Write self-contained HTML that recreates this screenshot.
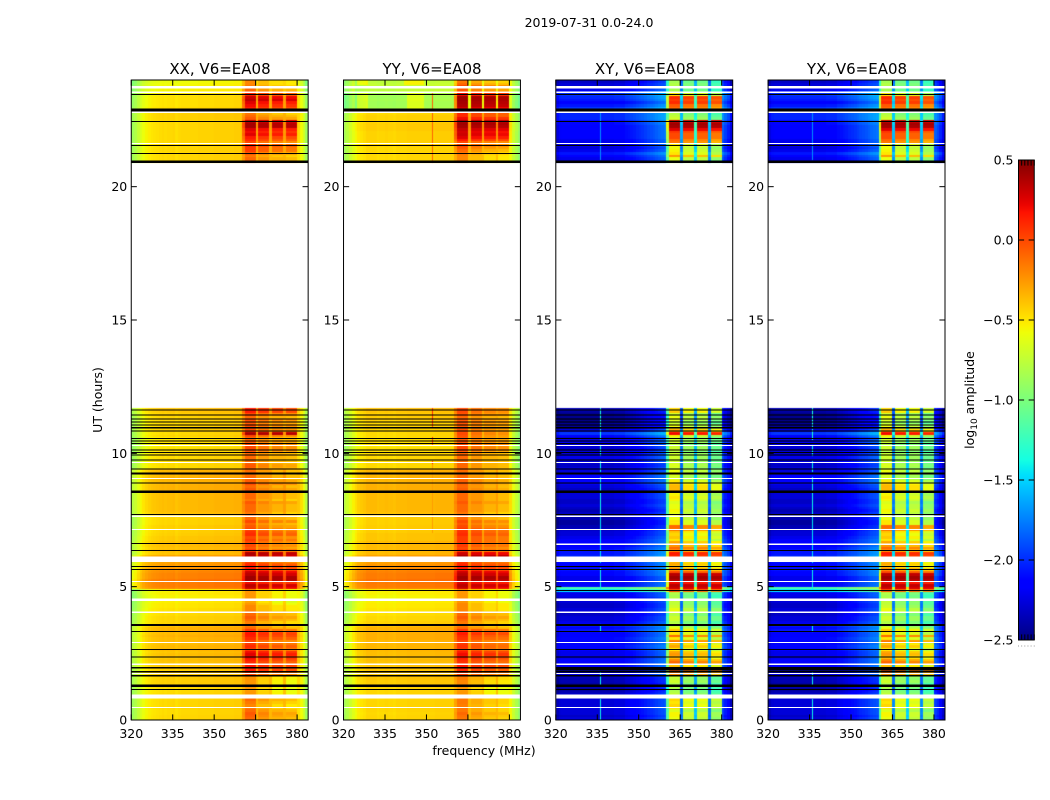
<!DOCTYPE html>
<html>
<head>
<meta charset="utf-8">
<title>2019-07-31 0.0-24.0</title>
<style>
html,body{margin:0;padding:0;background:#fff;}
#figure{position:relative;width:1050px;height:800px;overflow:hidden;background:#fff;font-family:"DejaVu Sans","Liberation Sans",sans-serif;}
canvas{position:absolute;top:80px;display:block;}
svg{position:absolute;left:0;top:0;}
text{font-family:"DejaVu Sans","Liberation Sans",sans-serif;fill:#000;}
</style>
</head>
<body>
<div id="figure">
<canvas id="canvas-xx"></canvas>
<canvas id="canvas-yy"></canvas>
<canvas id="canvas-xy"></canvas>
<canvas id="canvas-yx"></canvas>
<svg id="overlay" width="1050" height="800" viewBox="0 0 1050 800">
<defs><linearGradient id="jet-gradient" x1="0" y1="1" x2="0" y2="0"></linearGradient></defs>
<text x="589" y="27" text-anchor="middle" font-size="12.5">2019-07-31 0.0-24.0</text>
<text x="220" y="74" text-anchor="middle" font-size="15">XX, V6=EA08</text>
<text x="432" y="74" text-anchor="middle" font-size="15">YY, V6=EA08</text>
<text x="645" y="74" text-anchor="middle" font-size="15">XY, V6=EA08</text>
<text x="857" y="74" text-anchor="middle" font-size="15">YX, V6=EA08</text>
<text x="484" y="755" text-anchor="middle" font-size="12.5">frequency (MHz)</text>
<text transform="translate(102,400) rotate(-90)" text-anchor="middle" font-size="12.5">UT (hours)</text>
<text transform="translate(974,400) rotate(-90)" text-anchor="middle" font-size="12.5">log<tspan font-size="9" dy="3">10</tspan><tspan dy="-3"> amplitude</tspan></text>
</svg>
</div>
<script>
/* ---------- axis tick data ---------- */
const xTicks = [320, 335, 350, 365, 380];
const yTicks = [0, 5, 10, 15, 20];
const colorTicks = [0.5, 0, -0.5, -1, -1.5, -2, -2.5];
const colorTickLabels = ['0.5', '0.0', '\u22120.5', '\u22121.0', '\u22121.5', '\u22122.0', '\u22122.5'];

/* ---------- per-row levels, one value per 0.1 h: 0.0-11.6 h then 20.9-24.0 h ---------- */
const xxBgLow = [
-.47,-.47,-.48,-.48,-.47,-.47,-.47,-.47,-.47,-.47,
-.48,-.48,-.47,-.44,-.44,-.44,-.42,-.42,-.44,-.42,
-.41,-.41,-.39,-.41,-.39,-.41,-.37,-.37,-.39,-.37,
-.37,-.35,-.37,-.35,-.35,-.40,-.46,-.46,-.46,-.48,
-.50,-.50,-.52,-.52,-.54,-.56,-.56,-.54,-.56,-.20,
-.18,-.18,-.16,-.20,-.20,-.22,-.24,-.28,-.28,-.30,
-.30,-.30,-.40,-.38,-.40,-.38,-.40,-.42,-.42,-.44,
-.45,-.45,-.44,-.46,-.46,-.46,-.48,-.40,-.38,-.38,
-.38,-.38,-.38,-.38,-.38,-.38,-.35,-.35,-.36,-.36,
-.34,-.36,-.34,-.36,-.48,-.48,-.48,-.50,-.48,-.48,
-.50,-.50,-.52,-.52,-.50,-.52,-.46,-.48,-.44,-.46,
-.46,-.46,-.46,-.46,-.44,-.42,-.40];
const xxBgHigh = [-.47,
-.47,-.47,-.47,-.47,-.47,-.47,-.47,-.47,-.47,-.47,
-.47,-.47,-.47,-.47,-.47,-.45,-.45,-.45,-.47,-.48,
-.50,-.50,-.50,-.50,-.52,-.56,-.56,-.58,-.58,-.60];
const xxBandLow = [
-.1,-.07,-.05,-.1,-.17,-.2,-.15,-.1,-.13,-.25,
-.25,-.27,-.25,-.25,-.25,-.23,-.2,.05,.15,.1,
.17,.1,.15,.2,.25,.2,.05,.1,.05,0,
.1,.15,.17,.05,-.1,-.15,-.17,-.1,-.05,-.1,
-.15,-.2,-.2,-.25,-.3,-.25,-.25,-.25,-.25,.3,
.35,.2,.42,.42,.35,.3,.15,.15,.1,0,
.3,.35,.38,.05,-.05,0,0,.05,0,.1,
.07,0,-.05,-.1,0,-.1,-.05,-.15,-.1,-.1,
-.1,-.05,-.15,-.1,-.1,-.1,-.05,-.1,0,-.05,
-.1,-.1,-.15,-.1,-.07,-.05,-.1,-.15,-.1,-.1,
-.05,0,0,0,-.05,-.1,0,.4,0,-.05,
0,-.05,0,-.1,0,.15,.15];
const xxBandHigh = [-.1,
-.1,-.15,-.05,.05,.05,.1,0,.1,.15,.25,
.2,.25,.4,.4,.35,-.05,-.1,-.15,-.15,.15,
.2,.25,.35,.3,.1,0,-.1,-.15,-.2,-.2];

const yyBgLow = [
-.47,-.47,-.48,-.47,-.47,-.47,-.47,-.47,-.47,-.47,
-.47,-.47,-.47,-.44,-.44,-.42,-.42,-.42,-.42,-.42,
-.41,-.41,-.39,-.41,-.39,-.39,-.37,-.37,-.37,-.37,
-.35,-.35,-.35,-.35,-.35,-.40,-.46,-.48,-.48,-.50,
-.52,-.52,-.54,-.54,-.56,-.58,-.58,-.56,-.56,-.20,
-.18,-.17,-.15,-.18,-.18,-.20,-.22,-.26,-.28,-.30,
-.30,-.30,-.38,-.38,-.38,-.38,-.38,-.42,-.42,-.42,
-.44,-.44,-.44,-.45,-.45,-.45,-.46,-.40,-.38,-.38,
-.38,-.38,-.38,-.38,-.38,-.38,-.35,-.35,-.36,-.36,
-.36,-.36,-.36,-.36,-.48,-.48,-.48,-.50,-.48,-.48,
-.50,-.50,-.52,-.50,-.50,-.50,-.48,-.48,-.46,-.46,
-.46,-.46,-.44,-.44,-.44,-.42,-.40];
const yyBgHigh = [-.48,
-.48,-.48,-.48,-.48,-.48,-.46,-.46,-.46,-.46,-.46,
-.46,-.44,-.44,-.44,-.46,-.46,-.46,-.48,-.48,-.86,
-.88,-.88,-.86,-.88,-.86,-.78,-.78,-.76,-.76,-.78];
const yyBandLow = [
-.15,-.13,-.1,-.15,-.15,-.17,-.15,-.15,-.15,-.25,
-.25,-.27,-.25,-.2,-.2,-.17,-.15,.05,.1,.1,
.15,.07,.1,.15,.2,.15,.05,.07,.05,0,
.07,.1,.15,.05,-.1,-.15,-.15,-.1,-.05,-.1,
-.15,-.2,-.2,-.2,-.25,-.25,-.25,-.25,-.25,.3,
.35,.25,.4,.42,.35,.3,.15,.15,.1,.05,
.3,.38,.3,.05,0,.05,.05,.05,.05,.1,
.07,.05,0,-.05,0,-.1,-.05,-.15,-.1,-.1,
-.1,-.05,-.1,-.1,-.1,-.1,-.07,-.1,-.07,-.07,
-.1,-.1,-.15,-.1,-.1,-.1,-.1,-.15,-.1,-.1,
-.07,0,0,0,-.03,-.05,-.03,0,-.03,-.05,
-.05,-.03,-.05,-.1,-.03,0,0];
const yyBandHigh = [-.2,
-.2,-.2,-.15,-.1,-.05,0,0,.15,.25,.3,
.28,.32,.4,.42,.4,.2,.1,.1,.2,.3,
.38,.4,.42,.42,.2,.02,-.05,0,-.1,-.15];

const crossBgLow = [
-2.2,-2.25,-2.2,-2.2,-2.15,-2.2,-2.2,-2.2,-2.2,-2.25,
-2.3,-2.35,-2.3,-2.35,-2.3,-2.3,-2.2,-2.15,-2.2,-2.15,
-2.1,-2.1,-2.1,-2.15,-2.15,-2.15,-2.1,-2.05,-2.1,-2.1,
-2.05,-2.1,-2.1,-2,-2.05,-2,-2.15,-2.2,-2.2,-2.25,
-2.2,-2.2,-2.25,-2.25,-2.2,-2.2,-2.15,-2.15,-1.4,-1.1,
-2.1,-2.1,-2.15,-2.15,-2.05,-2.05,-2,-2.05,-2.05,-2,
-1.95,-1.95,-2,-2,-2.05,-2.1,-2.1,-2.1,-2.15,-2.2,
-2.2,-2.25,-2.3,-2.35,-2.35,-2.3,-2.3,-2.25,-2.3,-2.25,
-2.2,-2.25,-2.25,-2.2,-2.2,-2.25,-2.25,-2.2,-2.15,-2.1,
-2.1,-2.1,-2.15,-2.2,-2.2,-2.25,-2.2,-2.2,-2.15,-2.2,
-2.2,-2.25,-2.2,-2.2,-2.15,-2.2,-2.05,-1.9,-2.2,-2.35,
-2.4,-2.4,-2.45,-2.4,-2.4,-2.35,-2.3];
const crossBgHigh = [-2.2,
-2.15,-2.1,-2,-2.15,-2.2,-2.15,-2.15,-2.15,-2.1,-2.1,
-2.1,-2.1,-2.1,-2.05,-2.05,-1.95,-1.95,-1.95,-2,-1.9,
-2,-2.1,-2,-1.95,-1.9,-2,-2.15,-2.2,-2.2,-2.25];
const crossBandLow = [
-.6,-.55,-.55,-.65,-.5,-.45,-.5,-.45,-.5,-.75,
-.8,-.85,-.8,-.8,-.7,-.75,-.7,-.15,-.05,0,
-.4,-.1,-.2,-.35,-.25,-.3,-.5,-.3,-.4,-.15,
-.5,-.1,-.5,-.4,-.6,-.75,-.8,-.7,-.7,-.8,
-.55,-.6,-.7,-.75,-.75,-.8,-.85,-.8,0,.3,
.35,.2,.38,.42,.35,0,-.2,-.35,-.3,-.35,
.1,.1,.15,-.2,-.1,-.25,-.3,-.5,-.4,-.45,
-.4,-.15,-.1,-.5,-.5,-.6,-.55,-.6,-.55,-.6,
-.6,-.65,-.55,-.5,-.55,-.6,-.35,-.35,-.4,-.5,
-.65,-.7,-.55,-.6,-.7,-.65,-.7,-.7,-.7,-.7,
-.8,-.7,-.7,-.8,-.7,-.7,-.55,.2,-.3,-.5,
-.6,-.75,-.65,-.6,-.7,-.4,-.45];
const crossBandHigh = [-.7,
-.6,-.25,-.5,-.55,-.6,-.55,-.15,-.1,0,0,
.05,.25,.4,.42,.35,-.7,-.75,-.8,-.3,-.1,
-.05,.1,.05,.1,-.5,-.8,-.85,-.8,-.8,-.85];

/* ---------- per-channel (1 MHz, 320-383) shapes ---------- */
const xxProfile = [
-.40,-.34,-.26,-.18,-.12,-.08,-.05,-.03,-.02,-.01,
0,.01,0,.01,.01,.02,-.01,.01,.02,.02,
.02,.02,.02,.02,.03,.03,.03,.03,.03,.03,
.04,.04,.04,.04,.04,.04,.04,.05,.05,.05,
.05,.05,.05,.05,.05,.05,.05,.05,.05,.05,
.05,.05,.05,.05,.05,.05,.05,.05,.05,.02,
-.04,-.10,-.22,-.40];
const yyProfile = [
-.38,-.32,-.24,-.16,-.10,-.05,-.03,-.01,.02,.02,
.02,.02,0,.01,.01,.02,.01,.01,0,.02,
.02,.02,.02,.03,.03,.03,.03,.03,.03,.03,
.03,.03,.03,.04,.04,.04,.04,.04,.04,.04,
.05,.05,.05,.05,.05,.05,.05,.05,.05,.05,
.05,.05,.05,.05,.05,.05,.05,.05,.05,-.05,
-.12,-.25,-.35,-.45];
const xyProfile = [
-.15,-.08,-.07,-.07,-.07,-.07,-.07,-.07,-.07,-.07,
-.07,-.07,-.07,-.07,-.07,-.07,-.07,-.07,-.07,-.07,
-.07,-.05,-.05,-.05,-.05,0,.01,.03,.05,.08,
.10,.12,.15,.18,.20,.22,.25,.28,.30,.32,
.35,.3,.3,.3,.3,.3,.3,.3,.3,.3,
.35,.3,.3,.3,.3,.3,.3,.3,.3,.3,
.25,.15,.05,-.15];
const yxProfile = [
-.15,-.08,-.07,-.07,-.07,-.07,-.07,-.07,-.07,-.07,
-.07,-.07,-.07,-.07,-.07,-.07,-.07,-.07,-.07,-.07,
-.07,-.05,-.05,-.05,-.05,0,.01,.03,.05,.08,
.10,.12,.15,.18,.20,.22,.25,.28,.30,.32,
.35,.3,.3,.3,.3,.35,.3,.3,.3,.3,
.4,.3,.3,.3,.3,.35,.3,.3,.3,.3,
.25,.18,.08,-.1];
const amplitudeBandMask = [
0,0,0,0,0,0,0,0,0,0, 0,0,0,0,0,0,0,0,0,0,
0,0,0,0,0,0,0,0,0,0, 0,0,0,0,0,0,0,0,0,0,
.5,1,1,1,1,.2,1,1,1,1, .2,1,1,1,1,.25,1,1,1,1,
.08,0,0,0];
const crossBandMask = [
0,0,0,0,0,0,0,0,0,0, 0,0,0,0,0,0,0,0,0,0,
0,0,0,0,0,0,0,0,0,0, 0,0,0,0,0,0,0,0,0,0,
.55,1,1,1,1,.1,1,1,1,1, .25,1,1,1,1,.1,1,1,1,1,
0,0,0,0];
const amplitudeBandOffset = [
0,0,0,0,0,0,0,0,0,0, 0,0,0,0,0,0,0,0,0,0,
0,0,0,0,0,0,0,0,0,0, 0,0,0,0,0,0,0,0,0,0,
0,0,0,0,0,0,-.25,-.25,-.25,-.25, 0,-.4,-.4,-.4,-.4,0,-.45,-.45,-.45,-.45,
0,0,0,0];
const crossBandOffset = [
0,0,0,0,0,0,0,0,0,0, 0,0,0,0,0,0,0,0,0,0,
0,0,0,0,0,0,0,0,0,0, 0,0,0,0,0,0,0,0,0,0,
0,0,0,0,0,0,-.15,-.15,-.15,-.15, 0,-.15,-.15,-.15,-.15,0,-.3,-.3,-.3,-.3,
0,0,0,0];

/* ---------- local brightenings: [start hour, end hour, first channel, last channel, log offset] ---------- */
const noPatches = [];
const yyPatches = [[22.9,24,0,3,.22],[22.9,24,60,63,.25],[22.9,23.5,5,8,.2],[22.9,23.5,23,28,.2],[23.8,24,5,8,.2],[23.8,24,22,28,.2]];

/* ---------- narrow interference lines: [start hour, end hour, log amplitude] ---------- */
const yySpikeChannel = 32;
const yySpikes = [[7,9.6,-.27],[10.3,10.6,.1],[9.6,9.7,.1],[11,11.7,.1],[20.9,23.5,-.08]];
const crossSpikeChannel = 16;
const crossSpikes = [[.05,.8,-1.4],[1.3,1.8,-1.4],[3.3,3.6,-1.4],[4.9,5.7,-1.4],[5.9,7.7,-1.45],[7.7,9.1,-1.4],[9.3,9.7,-1.4],[9.9,10.3,-1.4],[10.5,10.9,-1.35],[11,11.7,-1.35],[21,22.9,-1.7]];

/* ---------- flagged rows: [centre hour, thickness in hours] ---------- */
const amplitudeBlackBands = [[1.15,.04],[1.29,.1],[1.66,.04],[1.81,.04],[1.96,.04],[2.37,.04],[2.65,.04],[3.32,.04],[3.56,.08],[4.86,.04],[5.65,.04],[5.76,.04],[6.36,.04],[6.625,.04],[7.7,.04],[8.56,.09],[8.89,.04],[9.25,.07],[9.41,.04],[9.75,.04],[9.93,.04],[10.03,.04],[10.13,.04],[10.375,.04],[10.47,.04],[10.56,.04],[10.84,.04],[10.96,.04],[11.06,.04],[11.17,.04],[11.29,.04],[11.44,.04],[11.625,.04],[20.93,.09],[21.25,.04],[21.55,.04],[22.45,.04],[22.875,.1],[23.46,.04]];
const crossBlackBands = [[1.15,.04],[1.29,.1],[1.66,.04],[1.81,.04],[1.92,.12],[2.37,.04],[2.65,.04],[3.32,.04],[3.56,.08],[4.86,.04],[5.65,.04],[5.76,.04],[6.36,.04],[7.7,.04],[8.56,.09],[8.89,.04],[9.25,.07],[9.41,.04],[9.75,.04],[9.93,.04],[10.03,.04],[10.13,.04],[10.375,.04],[10.47,.04],[10.56,.04],[10.84,.04],[10.96,.04],[11.06,.04],[11.17,.04],[11.29,.04],[11.44,.04],[11.625,.04],[20.93,.09],[21.55,.04],[22.45,.04],[22.875,.1],[23.46,.04]];
const amplitudeWhiteBands = [[.475,.04],[.885,.15],[1.75,.04],[2.09,.04],[2.9,.04],[4.04,.04],[4.51,.1],[5.2,.04],[6.025,.2],[7.15,.04],[7.64,.04],[9.06,.04],[9.66,.04],[10.3,.04],[21.62,.04],[22.79,.07],[23.54,.05],[23.725,.1]];
const crossWhiteBands = [[.475,.04],[.885,.15],[1.75,.04],[2.09,.04],[2.9,.04],[4.04,.04],[4.51,.1],[5.2,.04],[6.025,.2],[6.59,.04],[7.15,.04],[7.64,.04],[9.06,.04],[9.66,.04],[10.3,.04],[21.62,.04],[22.79,.07],[23.54,.05],[23.725,.1]];

/* ---------- panels ---------- */
const panelLeft = [131.25, 343.53, 555.81, 768.1];
const panelNames = ['xx', 'yy', 'xy', 'yx'];
const panelWidth = 176.9;
const panelTop = 80, panelBottom = 720;
const cMin = -2.5, cMax = 0.5;
const freqMin = 320, freqMax = 384;
const hourMin = 0, hourMax = 24;
const lowRowCount = 117;

const svgNS = 'http://www.w3.org/2000/svg';
const overlay = document.getElementById('overlay');

function xScale(freq, left) { return left + (freq - freqMin) / (freqMax - freqMin) * panelWidth; }
function yScale(hour) { return panelBottom - (hour - hourMin) / (hourMax - hourMin) * (panelBottom - panelTop); }
function rowStart(i) { return i < lowRowCount ? i * 0.1 : 20.9 + (i - lowRowCount) * 0.1; }

function lerpStops(t, stops) {
  if (t <= stops[0][0]) return stops[0][1];
  for (let i = 1; i < stops.length; i++) {
    if (t <= stops[i][0]) {
      const a = stops[i - 1], b = stops[i];
      return a[1] + (b[1] - a[1]) * (t - a[0]) / (b[0] - a[0]);
    }
  }
  return stops[stops.length - 1][1];
}
const jetR = [[0,0],[.35,0],[.66,1],[.89,1],[1,.5]];
const jetG = [[0,0],[.125,0],[.375,1],[.64,1],[.91,0],[1,0]];
const jetB = [[0,.5],[.11,1],[.34,1],[.65,0],[1,0]];
function jet(value) {
  const t = Math.max(0, Math.min(1, (value - cMin) / (cMax - cMin)));
  return 'rgb(' + Math.round(255 * lerpStops(t, jetR)) + ',' + Math.round(255 * lerpStops(t, jetG)) + ',' + Math.round(255 * lerpStops(t, jetB)) + ')';
}

function makeLine(x1, y1, x2, y2) {
  const el = document.createElementNS(svgNS, 'line');
  el.setAttribute('x1', x1);
  el.setAttribute('y1', y1);
  el.setAttribute('x2', x2);
  el.setAttribute('y2', y2);
  el.setAttribute('stroke', '#000');
  el.setAttribute('stroke-width', '1');
  overlay.appendChild(el);
  return el;
}
function makeRect(x, y, w, h, fill) {
  const el = document.createElementNS(svgNS, 'rect');
  el.setAttribute('x', x);
  el.setAttribute('y', y);
  el.setAttribute('width', w);
  el.setAttribute('height', h);
  el.setAttribute('fill', fill);
  overlay.appendChild(el);
  return el;
}
function makeText(x, y, anchor, content) {
  const el = document.createElementNS(svgNS, 'text');
  el.setAttribute('x', x);
  el.setAttribute('y', y);
  el.setAttribute('text-anchor', anchor);
  el.setAttribute('font-size', '12.5');
  el.textContent = content;
  overlay.appendChild(el);
  return el;
}

function drawHeatmap(name, left, bgRows, bandRows, profile, mask, offset, patches, spikeChannel, spikes) {
  const canvas = document.getElementById('canvas-' + name);
  const originX = Math.floor(left);
  const w = Math.ceil(panelWidth) + 1;
  const h = panelBottom - panelTop;
  canvas.width = w;
  canvas.height = h;
  canvas.style.left = originX + 'px';
  canvas.style.width = w + 'px';
  canvas.style.height = h + 'px';
  const ctx = canvas.getContext('2d');
  for (let r = 0; r < bgRows.length; r++) {
    const start = rowStart(r);
    const mid = start + 0.05;
    const yTop = Math.round(yScale(start + 0.1)) - panelTop;
    const yBot = Math.round(yScale(start)) - panelTop;
    for (let c = 0; c < profile.length; c++) {
      const f = freqMin + c;
      const x0 = Math.round(xScale(f, left)) - originX;
      const x1 = Math.round(xScale(f + 1, left)) - originX;
      const band = bandRows[r] + offset[c] * (0.5 - bandRows[r]);
      let v = bgRows[r] + profile[c] + mask[c] * (band - bgRows[r] - profile[c]);
      for (const p of patches) {
        if (mid >= p[0] && mid < p[1] && c >= p[2] && c <= p[3]) v += p[4];
      }
      ctx.fillStyle = jet(v);
      ctx.fillRect(x0, yTop, x1 - x0, yBot - yTop);
      if (c === spikeChannel) {
        for (const s of spikes) {
          if (mid >= s[0] && mid < s[1]) {
            ctx.fillStyle = jet(s[2]);
            ctx.fillRect(x0, yTop, 1, yBot - yTop);
          }
        }
      }
    }
  }
}

const lowHigh = (a, b) => a.concat(b);
drawHeatmap('xx', panelLeft[0], lowHigh(xxBgLow, xxBgHigh), lowHigh(xxBandLow, xxBandHigh), xxProfile, amplitudeBandMask, amplitudeBandOffset, noPatches, -1, []);
drawHeatmap('yy', panelLeft[1], lowHigh(yyBgLow, yyBgHigh), lowHigh(yyBandLow, yyBandHigh), yyProfile, amplitudeBandMask, amplitudeBandOffset, yyPatches, yySpikeChannel, yySpikes);
drawHeatmap('xy', panelLeft[2], lowHigh(crossBgLow, crossBgHigh), lowHigh(crossBandLow, crossBandHigh), xyProfile, crossBandMask, crossBandOffset, noPatches, crossSpikeChannel, crossSpikes);
drawHeatmap('yx', panelLeft[3], lowHigh(crossBgLow, crossBgHigh), lowHigh(crossBandLow, crossBandHigh), yxProfile, crossBandMask, crossBandOffset, noPatches, crossSpikeChannel, crossSpikes);

panelNames.forEach(function (name, p) {
  const left = panelLeft[p];
  const right = left + panelWidth;
  const blacks = p < 2 ? amplitudeBlackBands : crossBlackBands;
  const whites = p < 2 ? amplitudeWhiteBands : crossWhiteBands;
  whites.forEach(function (b) {
    const el = makeRect(left, yScale(b[0] + b[1] / 2), panelWidth, yScale(b[0] - b[1] / 2) - yScale(b[0] + b[1] / 2), '#fff');
    el.setAttribute('shape-rendering', 'crispEdges');
    
    
  });
  blacks.forEach(function (b) {
    const el = makeRect(left, yScale(b[0] + b[1] / 2), panelWidth, yScale(b[0] - b[1] / 2) - yScale(b[0] + b[1] / 2), '#000');
    el.setAttribute('shape-rendering', 'crispEdges');
    
    
  });
  xTicks.forEach(function (tick) {
    const x = xScale(tick, left);
    const bottomTick = makeLine(x, panelBottom, x, panelBottom - 5.6);
    
    
    const topTick = makeLine(x, panelTop, x, panelTop + 5.6);
    
    
    const label = makeText(x, 738, 'middle', String(tick));
    
    
  });
  yTicks.forEach(function (tick) {
    const y = yScale(tick);
    const leftTick = makeLine(left, y, left + 5.6, y);
    
    
    const rightTick = makeLine(right, y, right - 5.6, y);
    
    
    const label = makeText(left - 4, y + 4.5, 'end', String(tick));
    
    
  });
  const frame = makeRect(left, panelTop, panelWidth, panelBottom - panelTop, 'none');
  frame.setAttribute('stroke', '#000');
  frame.setAttribute('stroke-width', '1');
  
  
});

/* ---------- colorbar ---------- */
const cbLeft = 1018.5, cbWidth = 15.75, cbTop = 160, cbBottom = 640;
const cbFractions = [0, .2, .4, .6, .8, 1];
function cbY(value) { return cbBottom - (value - cMin) / (cMax - cMin) * (cbBottom - cbTop); }
const gradient = document.getElementById('jet-gradient');
for (let i = 0; i <= 64; i++) {
  const stop = document.createElementNS(svgNS, 'stop');
  stop.setAttribute('offset', i / 64);
  stop.setAttribute('stop-color', jet(cMin + (cMax - cMin) * i / 64));
  gradient.appendChild(stop);
}
const cbBar = makeRect(cbLeft, cbTop, cbWidth, cbBottom - cbTop, 'url(#jet-gradient)');


colorTicks.forEach(function (tick, i) {
  const y = cbY(tick);
  const leftTick = makeLine(cbLeft, y, cbLeft + 5.6, y);
  
  
  const rightTick = makeLine(cbLeft + cbWidth, y, cbLeft + cbWidth - 5.6, y);
  
  
  const label = makeText(cbLeft - 5, y + 4.5, 'end', colorTickLabels[i]);
  
  
});
cbFractions.forEach(function (frac) {
  const x = cbLeft + frac * cbWidth;
  const topTick = makeLine(x, cbTop, x, cbTop + 5.6);
  
  
  const bottomTick = makeLine(x, cbBottom, x, cbBottom - 5.6);
  
  
  const dot = makeRect(x - 0.5, 645.5, 1, 1, '#999');
  
  
});
const cbFrame = makeRect(cbLeft, cbTop, cbWidth, cbBottom - cbTop, 'none');
cbFrame.setAttribute('stroke', '#000');
cbFrame.setAttribute('stroke-width', '1');


</script>
</body>
</html>
